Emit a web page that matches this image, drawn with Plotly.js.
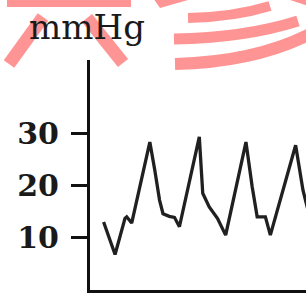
<!DOCTYPE html>
<html>
<head>
<meta charset="utf-8">
<script src="https://cdn.plot.ly/plotly-3.0.1.min.js"></script>
<style>
html,body{margin:0;padding:0;background:#fff;}
#chart{width:306px;height:300px;}
</style>
</head>
<body>
<div id="chart"></div>
<script>
// Pressure trace (time in arbitrary units, pressure in mmHg)
const timePoints = [0.63, 1.16, 1.62, 1.70, 1.93, 2.77, 3.00, 3.22, 3.38, 3.67, 3.91, 4.14,
                    5.06, 5.22, 5.52, 5.90, 6.28, 7.22, 7.51, 7.74, 8.12, 8.35, 9.52, 9.86, 10.09];
const pressure   = [13.0, 6.8, 13.7, 14.0, 12.8, 28.3, 22.9, 17.2, 14.6, 14.1, 13.9, 12.1,
                    29.3, 18.5, 15.9, 13.7, 10.5, 28.3, 19.7, 14.0, 14.0, 10.5, 27.7, 19.1, 15.3];
const tickValues = [10, 20, 30];
const tickLabels = ["10", "20", "30"];
const unitLabel = "mmHg";

// layout geometry
const W = 306, H = 300;
const M = {l: 90, r: 0, t: 60, b: 10};
const PW = W - M.l - M.r, PH = H - M.t - M.b;
function px(x) { return (x - M.l) / PW; }
function py(y) { return (H - M.b - y) / PH; }
function pt(x, y) { return px(x).toFixed(4) + "," + py(y).toFixed(4); }

const wm = "rgba(255,60,60,0.55)";
function stroke(pts, w) {
  let d = "M" + pt(pts[0][0], pts[0][1]);
  if (pts.length === 3) d += " Q" + pt(pts[1][0], pts[1][1]) + " " + pt(pts[2][0], pts[2][1]);
  else d += " L" + pt(pts[1][0], pts[1][1]);
  return {type: "path", xref: "paper", yref: "paper", path: d, layer: "above",
          line: {color: wm, width: w}};
}
function poly(pts) {
  let d = "M" + pts.map(p => pt(p[0], p[1])).join(" L") + " Z";
  return {type: "path", xref: "paper", yref: "paper", path: d, layer: "above",
          fillcolor: wm, line: {width: 0}};
}

const shapes = [
  poly([[7,-2],[131,-2],[131,7],[7,7]]),
  stroke([[9,64],[43,17]], 13),
  stroke([[87,18],[123,63]], 13),
  poly([[153,-2],[195,-2],[160,8]]),
  stroke([[188,18],[234,17],[270,6]], 10),
  stroke([[174,39],[244,38],[298,21]], 11),
  stroke([[175,64],[256,62],[312,33]], 12),
  poly([[284,-2],[308,-2],[308,6]])
];

const trace = {
  x: timePoints, y: pressure, type: "scatter", mode: "lines",
  line: {color: "#202020", width: 3.3}, hoverinfo: "skip", cliponaxis: true
};

const layout = {
  width: W, height: H,
  margin: M,
  paper_bgcolor: "#ffffff", plot_bgcolor: "#ffffff",
  showlegend: false,
  xaxis: {range: [0, 10], showgrid: false, zeroline: false, showticklabels: false,
          ticks: "", showline: true, linecolor: "#111", linewidth: 3, fixedrange: true},
  yaxis: {range: [0, 44], showgrid: false, zeroline: false, showline: true,
          linecolor: "#111", linewidth: 3, ticks: "outside", ticklen: 16, tickwidth: 3,
          tickcolor: "#111", tickvals: tickValues, ticktext: tickLabels,
          ticklabelstandoff: 6,
          tickfont: {family: "DejaVu Serif", size: 30, color: "#1a1a1a", weight: "bold"},
          fixedrange: true},
  annotations: [{
    text: unitLabel, xref: "paper", yref: "paper", x: px(27), y: py(27),
    xanchor: "left", yanchor: "middle", showarrow: false,
    font: {family: "DejaVu Serif", size: 34, color: "#1a1a1a"}
  }],
  shapes: shapes
};

Plotly.newPlot("chart", [trace], layout, {staticPlot: true, displayModeBar: false});
</script>
</body>
</html>
